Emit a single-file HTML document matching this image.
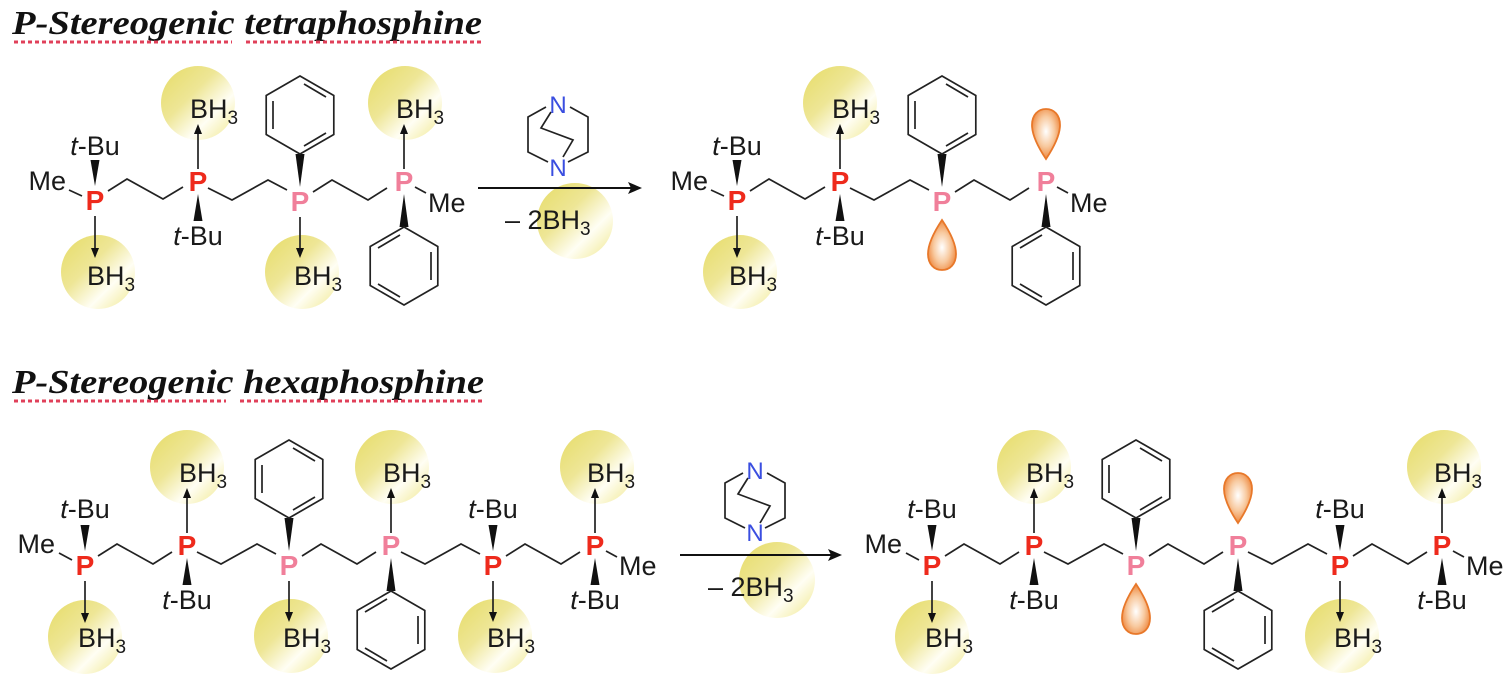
<!DOCTYPE html>
<html><head><meta charset="utf-8"><style>
html,body{margin:0;padding:0;background:#fff;}
svg{display:block}
.l{font-family:"Liberation Sans",sans-serif;font-size:27px;fill:#1a1a1a}
.P{font-family:"Liberation Sans",sans-serif;font-size:28px;font-weight:bold;text-anchor:middle}
.r{fill:#ee2a1c}.k{fill:#f07f9a}
.N{font-family:"Liberation Sans",sans-serif;font-size:24px;fill:#3a4ee0;text-anchor:middle}
.t{font-family:"Liberation Serif",serif;font-size:34px;font-weight:bold;font-style:italic;fill:#111}
line,polyline,polygon.b{stroke:#222;stroke-width:1.7;fill:none}
</style></head><body>
<svg width="1511" height="685" viewBox="0 0 1511 685" xmlns="http://www.w3.org/2000/svg">
<defs>
<linearGradient id="gl" x1="0" y1="0" x2="1" y2="1">
<stop offset="0" stop-color="#e6dc66"/><stop offset="0.4" stop-color="#eee696"/><stop offset="0.68" stop-color="#fffef4"/><stop offset="1" stop-color="#efe78a"/></linearGradient>
<radialGradient id="lg" cx="0.5" cy="0.45" r="0.6"><stop offset="0" stop-color="#fff"/><stop offset="0.5" stop-color="#f8caa0"/><stop offset="1" stop-color="#ec7a2a"/></radialGradient>
<g id="phU"><polygon class="b" points="0,-39 33.8,-19.5 33.8,19.5 0,39 -33.8,19.5 -33.8,-19.5"/><line x1="-27" y1="-14" x2="-27" y2="14"/><line x1="4" y1="-31" x2="26" y2="-18"/><line x1="26" y1="18" x2="4" y2="31"/></g>
<g id="phD"><polygon class="b" points="0,-39 33.8,-19.5 33.8,19.5 0,39 -33.8,19.5 -33.8,-19.5"/><line x1="27" y1="-14" x2="27" y2="14"/><line x1="-4" y1="-31" x2="-26" y2="-18"/><line x1="-26" y1="18" x2="-4" y2="31"/></g>
<path id="lp" d="M0,25 C-6,16 -14,2 -14,-9 C-14,-19 -8,-25 0,-25 C8,-25 14,-19 14,-9 C14,2 6,16 0,25Z" fill="url(#lg)" stroke="#e8782a" stroke-width="1.8"/>
<g id="dab"><polyline points="-12,2 -30,12 -30,47 -10,57"/><polyline points="12,2 30,12 30,47 10,57"/><polyline points="-7,7 -17,23 15,35 5,52"/></g>
</defs>

<!-- Titles -->
<text class="t" x="12" y="34" textLength="470" lengthAdjust="spacingAndGlyphs">P-Stereogenic tetraphosphine</text>
<line x1="14" y1="42" x2="232" y2="42" style="stroke:#e0405a;stroke-width:3;stroke-dasharray:4,3"/>
<line x1="246" y1="42" x2="482" y2="42" style="stroke:#e0405a;stroke-width:3;stroke-dasharray:4,3"/>
<text class="t" x="12" y="393" textLength="472" lengthAdjust="spacingAndGlyphs">P-Stereogenic hexaphosphine</text>
<line x1="14" y1="401" x2="226" y2="401" style="stroke:#e0405a;stroke-width:3;stroke-dasharray:4,3"/>
<line x1="240" y1="401" x2="484" y2="401" style="stroke:#e0405a;stroke-width:3;stroke-dasharray:4,3"/>

<!-- ===== TOP REACTANT ===== -->
<g transform="translate(95,200)">
<circle cx="3" cy="72" r="37" fill="url(#gl)"/>
<text class="l" x="-29" y="-10" text-anchor="end">Me</text><line x1="-26" y1="-10" x2="-13" y2="-4"/>
<polygon points="0,-14 -4.5,-40 4.5,-40" fill="#111"/><text class="l" x="0" y="-45" text-anchor="middle"><tspan font-style="italic">t</tspan>-Bu</text>
<line x1="0" y1="16" x2="0" y2="50"/><polygon points="0,58 -4,48 4,48" fill="#111"/><text class="l" x="-8" y="85">BH<tspan dy="6" font-size="19">3</tspan></text>
<text class="P r" x="0" y="10">P</text>
<polyline points="13,-9 32,-21 68,-1 88,-13"/>
</g>
<g transform="translate(198,181)">
<circle cx="0" cy="-78" r="37" fill="url(#gl)"/>
<line x1="0" y1="-12" x2="0" y2="-48"/><polygon points="0,-57 -4,-47 4,-47" fill="#111"/><text class="l" x="-8" y="-63">BH<tspan dy="6" font-size="19">3</tspan></text>
<polygon points="0,13 -4.5,40 4.5,40" fill="#111"/><text class="l" x="0" y="64" text-anchor="middle"><tspan font-style="italic">t</tspan>-Bu</text>
<text class="P r" x="0" y="10">P</text>
<polyline points="10,7 34,19 70,-1 89,9"/>
</g>
<g transform="translate(300,201)">
<circle cx="2" cy="71" r="37" fill="url(#gl)"/>
<polygon points="0,-14 -4.5,-47 4.5,-47" fill="#111"/><use href="#phU" x="0" y="-86"/>
<line x1="0" y1="16" x2="0" y2="49"/><polygon points="0,57 -4,47 4,47" fill="#111"/><text class="l" x="-6" y="84">BH<tspan dy="6" font-size="19">3</tspan></text>
<text class="P k" x="0" y="10">P</text>
<polyline points="13,-9 32,-21 68,-1 87,-13"/>
</g>
<g transform="translate(404,181)">
<circle cx="1" cy="-78" r="37" fill="url(#gl)"/>
<line x1="0" y1="-12" x2="0" y2="-48"/><polygon points="0,-57 -4,-47 4,-47" fill="#111"/><text class="l" x="-8" y="-63">BH<tspan dy="6" font-size="19">3</tspan></text>
<line x1="11" y1="6" x2="22" y2="12"/><text class="l" x="24" y="31">Me</text>
<polygon points="0,13 -4.5,46 4.5,46" fill="#111"/><use href="#phD" x="0" y="85"/>
<text class="P k" x="0" y="10">P</text>
</g>

<!-- top arrow -->
<circle cx="575" cy="221" r="38" fill="url(#gl)"/>
<g transform="translate(558,105)"><use href="#dab"/><text class="N" x="0" y="8">N</text><text class="N" x="0" y="71">N</text></g>
<line x1="478" y1="188" x2="634" y2="188" style="stroke:#111;stroke-width:2"/><polygon points="642,188 628,182 631,188 628,194" fill="#111"/>
<text class="l" x="505" y="229">– 2BH<tspan dy="6" font-size="19">3</tspan></text>

<!-- ===== TOP PRODUCT ===== -->
<g transform="translate(737,200)">
<circle cx="3" cy="72" r="37" fill="url(#gl)"/>
<text class="l" x="-29" y="-10" text-anchor="end">Me</text><line x1="-26" y1="-10" x2="-13" y2="-4"/>
<polygon points="0,-14 -4.5,-40 4.5,-40" fill="#111"/><text class="l" x="0" y="-45" text-anchor="middle"><tspan font-style="italic">t</tspan>-Bu</text>
<line x1="0" y1="16" x2="0" y2="50"/><polygon points="0,58 -4,48 4,48" fill="#111"/><text class="l" x="-8" y="85">BH<tspan dy="6" font-size="19">3</tspan></text>
<text class="P r" x="0" y="10">P</text>
<polyline points="13,-9 32,-21 68,-1 88,-13"/>
</g>
<g transform="translate(840,181)">
<circle cx="0" cy="-78" r="37" fill="url(#gl)"/>
<line x1="0" y1="-12" x2="0" y2="-48"/><polygon points="0,-57 -4,-47 4,-47" fill="#111"/><text class="l" x="-8" y="-63">BH<tspan dy="6" font-size="19">3</tspan></text>
<polygon points="0,13 -4.5,40 4.5,40" fill="#111"/><text class="l" x="0" y="64" text-anchor="middle"><tspan font-style="italic">t</tspan>-Bu</text>
<text class="P r" x="0" y="10">P</text>
<polyline points="10,7 34,19 70,-1 89,9"/>
</g>
<g transform="translate(942,201)">
<polygon points="0,-14 -4.5,-47 4.5,-47" fill="#111"/><use href="#phU" x="0" y="-86"/>
<use href="#lp" transform="translate(0,44) rotate(180)"/>
<text class="P k" x="0" y="10">P</text>
<polyline points="13,-9 32,-21 68,-1 87,-13"/>
</g>
<g transform="translate(1046,181)">
<use href="#lp" transform="translate(0,-47)"/>
<line x1="11" y1="6" x2="22" y2="12"/><text class="l" x="24" y="31">Me</text>
<polygon points="0,13 -4.5,46 4.5,46" fill="#111"/><use href="#phD" x="0" y="85"/>
<text class="P k" x="0" y="10">P</text>
</g>

<!-- ===== BOTTOM REACTANT ===== -->
<g transform="translate(85,565)">
<circle cx="0" cy="72" r="37" fill="url(#gl)"/>
<text class="l" x="-30" y="-12" text-anchor="end">Me</text><line x1="-26" y1="-12" x2="-13" y2="-5"/>
<polygon points="0,-14 -4.5,-40 4.5,-40" fill="#111"/><text class="l" x="0" y="-47" text-anchor="middle"><tspan font-style="italic">t</tspan>-Bu</text>
<line x1="0" y1="16" x2="0" y2="50"/><polygon points="0,58 -4,48 4,48" fill="#111"/><text class="l" x="-7" y="82">BH<tspan dy="6" font-size="19">3</tspan></text>
<text class="P r" x="0" y="10">P</text>
<polyline points="13,-9 32,-21 68,-1 87,-13"/>
</g>
<g transform="translate(187,545)">
<circle cx="0" cy="-78" r="37" fill="url(#gl)"/>
<line x1="0" y1="-12" x2="0" y2="-48"/><polygon points="0,-57 -4,-47 4,-47" fill="#111"/><text class="l" x="-8" y="-63">BH<tspan dy="6" font-size="19">3</tspan></text>
<polygon points="0,13 -4.5,40 4.5,40" fill="#111"/><text class="l" x="0" y="64" text-anchor="middle"><tspan font-style="italic">t</tspan>-Bu</text>
<text class="P r" x="0" y="10">P</text>
<polyline points="10,7 34,19 70,-1 89,9"/>
</g>
<g transform="translate(289,565)">
<circle cx="2" cy="71" r="37" fill="url(#gl)"/>
<polygon points="0,-14 -4.5,-47 4.5,-47" fill="#111"/><use href="#phU" x="0" y="-86"/>
<line x1="0" y1="16" x2="0" y2="49"/><polygon points="0,57 -4,47 4,47" fill="#111"/><text class="l" x="-6" y="82">BH<tspan dy="6" font-size="19">3</tspan></text>
<text class="P k" x="0" y="10">P</text>
<polyline points="13,-9 32,-21 68,-1 87,-13"/>
</g>
<g transform="translate(391,545)">
<circle cx="1" cy="-78" r="37" fill="url(#gl)"/>
<line x1="0" y1="-12" x2="0" y2="-48"/><polygon points="0,-57 -4,-47 4,-47" fill="#111"/><text class="l" x="-8" y="-63">BH<tspan dy="6" font-size="19">3</tspan></text>
<polygon points="0,13 -4.5,46 4.5,46" fill="#111"/><use href="#phD" x="0" y="85"/>
<text class="P k" x="0" y="10">P</text>
<polyline points="10,7 34,19 70,-1 89,9"/>
</g>
<g transform="translate(493,565)">
<circle cx="2" cy="71" r="37" fill="url(#gl)"/>
<polygon points="0,-14 -4.5,-40 4.5,-40" fill="#111"/><text class="l" x="0" y="-47" text-anchor="middle"><tspan font-style="italic">t</tspan>-Bu</text>
<line x1="0" y1="16" x2="0" y2="49"/><polygon points="0,57 -4,47 4,47" fill="#111"/><text class="l" x="-6" y="82">BH<tspan dy="6" font-size="19">3</tspan></text>
<text class="P r" x="0" y="10">P</text>
<polyline points="13,-9 32,-21 68,-1 87,-13"/>
</g>
<g transform="translate(595,545)">
<circle cx="2" cy="-78" r="37" fill="url(#gl)"/>
<line x1="0" y1="-12" x2="0" y2="-48"/><polygon points="0,-57 -4,-47 4,-47" fill="#111"/><text class="l" x="-8" y="-63">BH<tspan dy="6" font-size="19">3</tspan></text>
<line x1="11" y1="6" x2="22" y2="12"/><text class="l" x="24" y="30">Me</text>
<polygon points="0,13 -4.5,40 4.5,40" fill="#111"/><text class="l" x="0" y="64" text-anchor="middle"><tspan font-style="italic">t</tspan>-Bu</text>
<text class="P r" x="0" y="10">P</text>
</g>

<!-- bottom arrow -->
<circle cx="777" cy="580" r="38" fill="url(#gl)"/>
<g transform="translate(755,471)"><use href="#dab"/><text class="N" x="0" y="8">N</text><text class="N" x="0" y="70">N</text></g>
<line x1="680" y1="555" x2="834" y2="555" style="stroke:#111;stroke-width:2"/><polygon points="842,555 828,549 831,555 828,561" fill="#111"/>
<text class="l" x="708" y="596">– 2BH<tspan dy="6" font-size="19">3</tspan></text>

<!-- ===== BOTTOM PRODUCT ===== -->
<g transform="translate(932,565)">
<circle cx="0" cy="72" r="37" fill="url(#gl)"/>
<text class="l" x="-30" y="-12" text-anchor="end">Me</text><line x1="-26" y1="-12" x2="-13" y2="-5"/>
<polygon points="0,-14 -4.5,-40 4.5,-40" fill="#111"/><text class="l" x="0" y="-47" text-anchor="middle"><tspan font-style="italic">t</tspan>-Bu</text>
<line x1="0" y1="16" x2="0" y2="50"/><polygon points="0,58 -4,48 4,48" fill="#111"/><text class="l" x="-7" y="82">BH<tspan dy="6" font-size="19">3</tspan></text>
<text class="P r" x="0" y="10">P</text>
<polyline points="13,-9 32,-21 68,-1 87,-13"/>
</g>
<g transform="translate(1034,545)">
<circle cx="0" cy="-78" r="37" fill="url(#gl)"/>
<line x1="0" y1="-12" x2="0" y2="-48"/><polygon points="0,-57 -4,-47 4,-47" fill="#111"/><text class="l" x="-8" y="-63">BH<tspan dy="6" font-size="19">3</tspan></text>
<polygon points="0,13 -4.5,40 4.5,40" fill="#111"/><text class="l" x="0" y="64" text-anchor="middle"><tspan font-style="italic">t</tspan>-Bu</text>
<text class="P r" x="0" y="10">P</text>
<polyline points="10,7 34,19 70,-1 89,9"/>
</g>
<g transform="translate(1136,565)">
<polygon points="0,-14 -4.5,-47 4.5,-47" fill="#111"/><use href="#phU" x="0" y="-86"/>
<use href="#lp" transform="translate(0,44) rotate(180)"/>
<text class="P k" x="0" y="10">P</text>
<polyline points="13,-9 32,-21 68,-1 87,-13"/>
</g>
<g transform="translate(1238,545)">
<use href="#lp" transform="translate(0,-47)"/>
<polygon points="0,13 -4.5,46 4.5,46" fill="#111"/><use href="#phD" x="0" y="85"/>
<text class="P k" x="0" y="10">P</text>
<polyline points="10,7 34,19 70,-1 89,9"/>
</g>
<g transform="translate(1340,565)">
<circle cx="2" cy="71" r="37" fill="url(#gl)"/>
<polygon points="0,-14 -4.5,-40 4.5,-40" fill="#111"/><text class="l" x="0" y="-47" text-anchor="middle"><tspan font-style="italic">t</tspan>-Bu</text>
<line x1="0" y1="16" x2="0" y2="49"/><polygon points="0,57 -4,47 4,47" fill="#111"/><text class="l" x="-6" y="82">BH<tspan dy="6" font-size="19">3</tspan></text>
<text class="P r" x="0" y="10">P</text>
<polyline points="13,-9 32,-21 68,-1 87,-13"/>
</g>
<g transform="translate(1442,545)">
<circle cx="2" cy="-78" r="37" fill="url(#gl)"/>
<line x1="0" y1="-12" x2="0" y2="-48"/><polygon points="0,-57 -4,-47 4,-47" fill="#111"/><text class="l" x="-8" y="-63">BH<tspan dy="6" font-size="19">3</tspan></text>
<line x1="11" y1="6" x2="22" y2="12"/><text class="l" x="24" y="30">Me</text>
<polygon points="0,13 -4.5,40 4.5,40" fill="#111"/><text class="l" x="0" y="64" text-anchor="middle"><tspan font-style="italic">t</tspan>-Bu</text>
<text class="P r" x="0" y="10">P</text>
</g>
</svg>
</body></html>
